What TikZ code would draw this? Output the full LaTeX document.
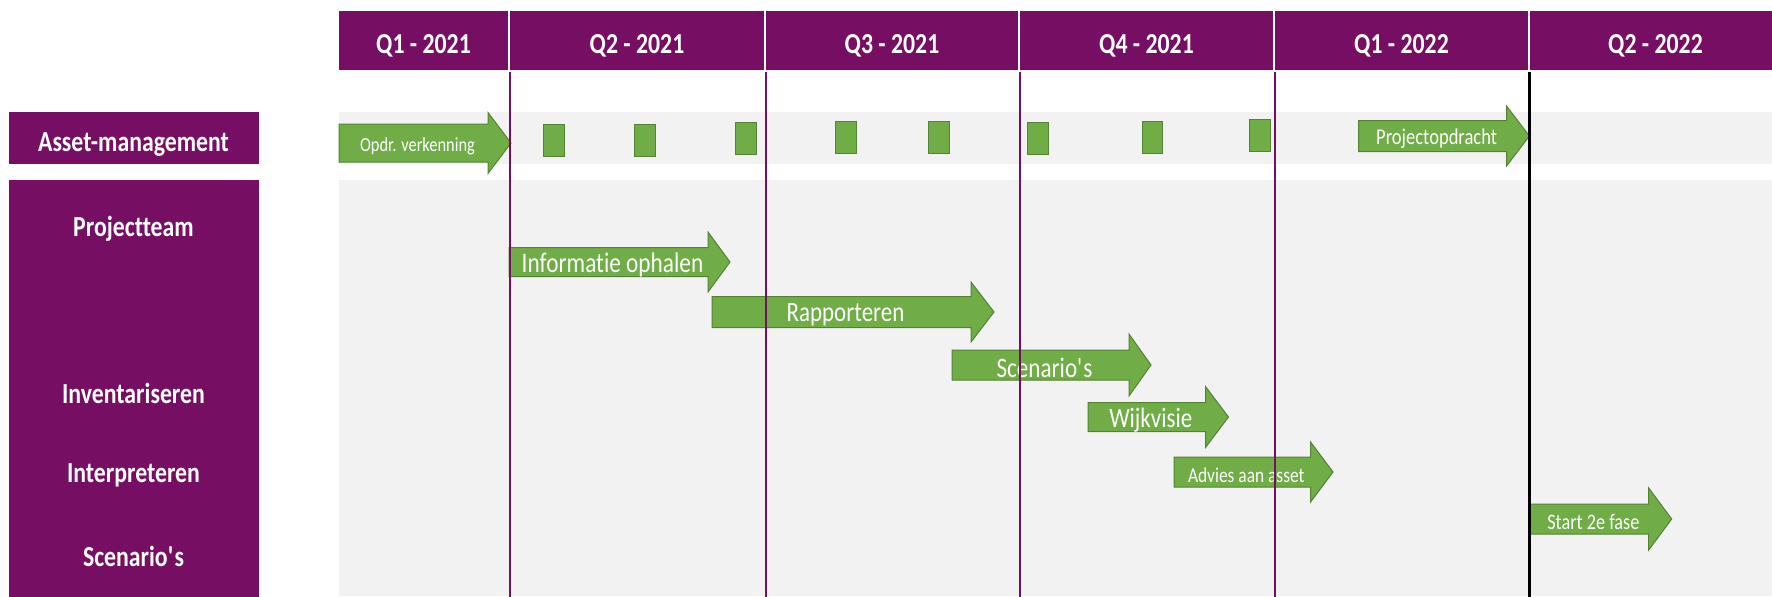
\documentclass[tikz,border=0pt]{standalone}
\usepackage{fontspec}
\setmainfont[FakeStretch=0.82, Ligatures=NoCommon]{Carlito}
\usetikzlibrary{positioning}
\definecolor{plum}{RGB}{118,14,100}
\definecolor{leaf}{RGB}{112,173,71}
\definecolor{leafline}{RGB}{84,130,53}
\definecolor{lanegray}{RGB}{242,242,242}
% name, tail, head start, tip, y, half body, half head, size, text
\newcommand{\phase}[9]{%
  \filldraw[phase] (#2,#5-#6) -- (#3,#5-#6) -- (#3,#5-#7) -- (#4,#5)
    -- (#3,#5+#7) -- (#3,#5+#6) -- (#2,#5+#6) -- cycle;
  \node[phase text, font=\fontsize{#8}{#8}\selectfont] (#1)
    at ({(#2+#3)/2+4},#5) {#9};}

\begin{document}
\begin{tikzpicture}[x=0.5pt, y=-0.5pt,
    quarter/.style = {fill = plum, draw = white, line width = 0.6pt,
      inner sep = 0pt, minimum height = 30.5pt},
    quarter text/.style = {text = white, inner sep = 0pt, yshift = -2.5pt,
      font = \fontsize{14.5}{14.5}\selectfont\bfseries},
    lane box/.style = {fill = plum, inner sep = 0pt, minimum width = 125pt},
    lane text/.style = {text = white, inner sep = 0pt,
      font = \fontsize{14.5}{14.5}\selectfont\bfseries},
    phase/.style = {fill = leaf, draw = leafline, line width = 0.5pt},
    phase text/.style = {text = white, inner sep = 0pt, yshift = -1.5pt},
    milestone/.style = {fill = leaf, draw = leafline, line width = 0.5pt,
      inner sep = 0pt, minimum width = 10.25pt, minimum height = 16pt,
      anchor = north west},
    grid/.style = {draw = plum, line width = 1pt},
  ]
  \useasboundingbox (0,0) rectangle (1772,596);

  % lanes
  \fill[lanegray] (339,112) rectangle (1772,164);
  \fill[lanegray] (339,180) rectangle (1772,596);

  % quarters
  \foreach \l/\r/\q [count=\i] in {338/509/Q1 - 2021, 509/765/Q2 - 2021,
      765/1019/Q3 - 2021, 1019/1274/Q4 - 2021, 1274/1529/Q1 - 2022,
      1529/1782/Q2 - 2022}
  {
    \node[quarter, minimum width = {(\r-\l)*0.5pt}] (q\i)
      at ({(\l+\r)/2},40.5) {};
    \node[quarter text] at (q\i) {\q};
  }

  % lane labels
  \node[lane box, minimum height = 26pt] (asset) at (133.5,138) {};
  \node[lane text] (assetname) at (133.5,145) {Asset-management};
  \node[lane box, minimum height = 210pt] (team) at (133.5,390) {};
  \node[lane text] (projectteam) at (133.5,229) {Projectteam};
  \node[lane text] (inventariseren) at (133.5,393) {Inventariseren};
  \node[lane text] (interpreteren) at (133.5,475) {Interpreteren};
  \node[lane text] (scenarios) at (133.5,556) {Scenario\textquotesingle s};

  % milestones
  \foreach \x/\y [count=\i] in {543/124, 634/124, 735/122, 835/121,
      928/121, 1027/122, 1141.5/121, 1249/119}
    \node[milestone] (m\i) at (\x,\y) {};

  % phases
  \phase{verkenning}{339}{488}{511}{143}{19}{30.5}{10}{Opdr. verkenning}
  \phase{opdracht}{1358.7}{1506.5}{1529.4}{136}{15.5}{30}{11.3}{Projectopdracht}
  \phase{informatie}{509}{708}{730}{262}{14.5}{30}{14.2}{Informatie ophalen}
  \phase{rapporteren}{712}{971}{994}{312}{15.5}{30}{14}{Rapporteren}
  \phase{scenario}{952}{1129}{1151}{365}{15}{31}{14.1}{Scenario\textquotesingle s}
  \phase{wijkvisie}{1088}{1205.5}{1228.5}{417}{14.5}{30.5}{14}{Wijkvisie}
  \phase{advies}{1174}{1310.5}{1333}{472}{15}{30}{10.6}{Advies aan asset}
  \phase{start}{1530}{1648.7}{1671.7}{519}{15}{31}{11.1}{Start 2e fase}

  % quarter lines
  \foreach \i in {1,...,4}
    \draw[grid] (q\i.south east) -- ++(0,530);
  \draw[grid, draw = black, line width = 1.2pt] (q5.south east) -- ++(0,530);
\end{tikzpicture}
\end{document}
